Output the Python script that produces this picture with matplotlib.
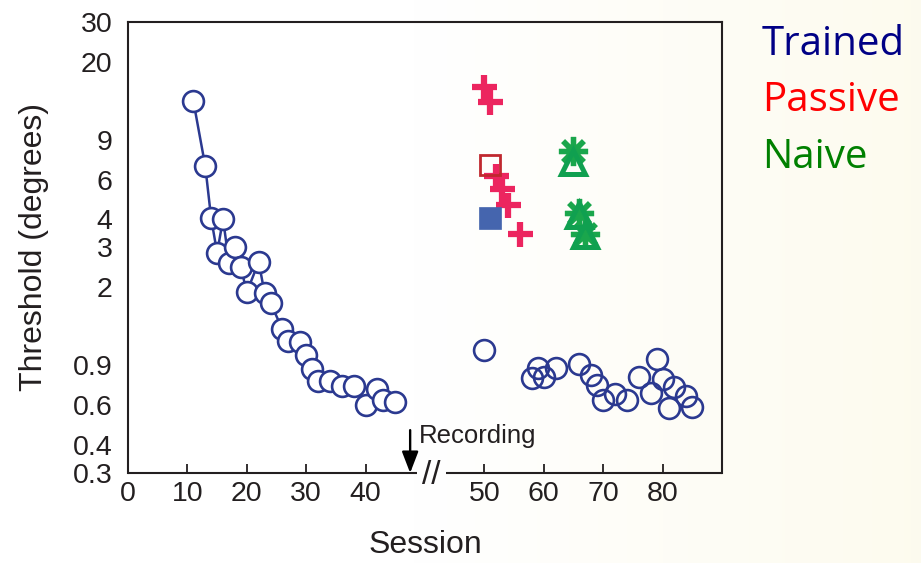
import numpy as np
import matplotlib
matplotlib.use("Agg")
import matplotlib.pyplot as plt

# ---- data (session, threshold in degrees) ----
# trained animal, before recording (connected)
pre_sessions = [11, 13, 14, 15, 16, 17, 18, 19, 20, 22, 23, 24, 26, 27, 29, 30,
                31, 32, 34, 36, 38, 40, 42, 43, 45]
pre_thresh = [13.4, 6.9, 4.04, 2.84, 4.01, 2.57, 3.02, 2.45, 1.90, 2.59, 1.88, 1.70,
              1.30, 1.15, 1.14, 1.00, 0.865, 0.77, 0.77, 0.73, 0.73, 0.60, 0.71, 0.63, 0.62]

# trained animal, after recording
post_sessions = [50, 58, 59, 60, 62, 66, 68, 69, 70, 72, 74, 76, 78, 79, 80, 81, 82, 84, 85]
post_thresh = [1.05, 0.79, 0.88, 0.80, 0.88, 0.91, 0.82, 0.74, 0.63, 0.67, 0.63,
               0.80, 0.68, 0.96, 0.78, 0.58, 0.72, 0.66, 0.59]

# passive animals
passive_sessions = [50, 51, 52, 53, 54, 56]
passive_thresh = [15.5, 13.2, 6.25, 5.44, 4.64, 3.44]
passive_sq_session = [51]
passive_sq_thresh = [7.0]

# trained animal 2 (filled square)
trained_sq_session = [51]
trained_sq_thresh = [4.04]

# naive animals
naive_star_sessions = [65, 66, 67]
naive_star_thresh = [8.06, 4.28, 3.44]
naive_tri_sessions = [65, 66, 67]
naive_tri_thresh = [7.2, 4.18, 3.40]

xtick_sessions = [0, 10, 20, 30, 40, 50, 60, 70, 80]
ytick_values = [30, 20, 9, 6, 4, 3, 2, 0.9, 0.6, 0.4, 0.3]
ytick_labels = ["30", "20", "9", "6", "4", "3", "2", "0.9", "0.6", "0.4", "0.3"]

legend_names = ["Trained", "Passive", "Naive"]
legend_colors = ["#000085", "#FF0000", "#008000"]

# ---- layout ----
BREAK = 10  # sessions after the recording gap are shifted by this on the axis
NAVY = "#2B3990"
INK = "#231F20"

plt.rcParams["font.family"] = ["Liberation Sans", "DejaVu Sans"]

fig = plt.figure(figsize=(9.21, 5.63), dpi=100)

# faint slide background, white on the left going cream to the right
bg = fig.add_axes([0, 0, 1, 1], zorder=-10)
grad = np.clip((np.linspace(0, 1, 256) - 0.45) / 0.55, 0, 1)[None, :]
white = np.array([1.0, 1.0, 1.0])
cream = np.array([0.992, 0.984, 0.935])
img = white[None, None, :] * (1 - grad[..., None]) + cream[None, None, :] * grad[..., None]
bg.imshow(img, aspect="auto", extent=[0, 1, 0, 1])
bg.axis("off")

ax = fig.add_axes([0.1390, 0.1599, 0.6449, 0.8010])
ax.set_facecolor("none")
ax.set_yscale("log")
ax.set_xlim(0, 100)
ax.set_ylim(0.3, 30)

def shift(s):
    return [v + BREAK for v in s]

ax.plot(pre_sessions, pre_thresh, "-", color=NAVY, lw=1.8, marker="o", ms=15,
        mfc="white", mec=NAVY, mew=1.9, zorder=3)
ax.plot(shift(post_sessions), post_thresh, "o", ms=15, mfc="none", mec=NAVY,
        mew=1.9, zorder=3)

ax.plot(shift(passive_sessions), passive_thresh, "+", ms=18, mew=4.5,
        color="#EC255F", zorder=4)
ax.plot(shift(passive_sq_session), passive_sq_thresh, "s", ms=15, mfc="none",
        mec="#C0282F", mew=2.0, zorder=4)
ax.plot(shift(trained_sq_session), trained_sq_thresh, "s", ms=15.5,
        mfc="#4565AE", mec="#4565AE", mew=0.5, zorder=4)
ax.plot(shift(naive_star_sessions), naive_star_thresh, marker=(8, 2, 0), ls="none",
        ms=21, mew=3.8, color="#1AA64C", zorder=4)
ax.plot(shift(naive_tri_sessions), naive_tri_thresh, "^", ms=17, mfc="none",
        mec="#10A050", mew=3.6, zorder=4)

# ticks
ax.set_xticks([s if s < 45 else s + BREAK for s in xtick_sessions])
ax.set_xticklabels([str(s) for s in xtick_sessions])
ax.set_yticks(ytick_values)
ax.set_yticklabels(ytick_labels)
ax.minorticks_off()
ax.tick_params(axis="x", direction="in", length=6.5, width=1.3, color=INK,
               labelsize=20.5, pad=6, labelcolor=INK)
ax.tick_params(axis="y", length=0, labelsize=20.5, pad=11, labelcolor=INK)

for side in ["left", "right", "top"]:
    ax.spines[side].set_linewidth(1.5)
    ax.spines[side].set_color(INK)
ax.spines["bottom"].set_visible(False)

# broken bottom axis
xt = ax.get_xaxis_transform()
ax.plot([0, 48.6], [0, 0], color=INK, lw=1.5, transform=xt, clip_on=False,
        solid_capstyle="butt")
ax.plot([53.6, 100], [0, 0], color=INK, lw=1.5, transform=xt, clip_on=False,
        solid_capstyle="butt")
ax.text(51.0, -0.005, "//", transform=xt, ha="center", va="center", fontsize=24,
        color=INK)

# recording arrow
ax.annotate("", xy=(47.5, 0.0), xycoords=xt, xytext=(47.5, 0.095), textcoords=xt,
            arrowprops=dict(arrowstyle="-|>,head_length=1.3,head_width=0.5",
                            color="black", lw=1.7, shrinkA=0, shrinkB=0))
ax.text(49.0, 0.081, "Recording", transform=xt, ha="left", va="center",
        fontsize=18.5, color=INK)

ax.set_xlabel("Session", fontsize=23, color=INK, labelpad=16)
ax.set_ylabel("Threshold (degrees)", fontsize=23, color=INK, labelpad=17)

# coloured group names
for i, (name, col) in enumerate(zip(legend_names, legend_colors)):
    fig.text(0.827, 0.902 - i * 0.1, name, color=col, fontsize=29,
             family=["Open Sans", "DejaVu Sans"], va="baseline", ha="left")

fig.savefig("out.png", dpi=100)
